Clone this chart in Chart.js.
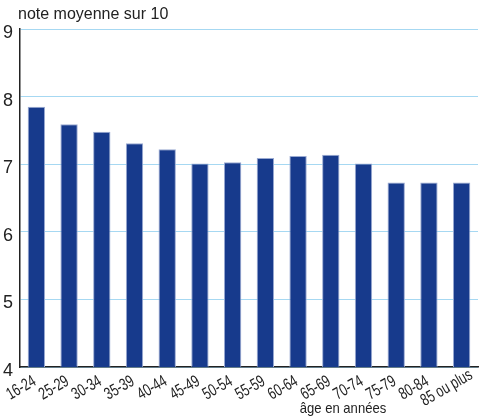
<!DOCTYPE html>
<html>
<head>
<meta charset="utf-8">
<script src="https://cdn.jsdelivr.net/npm/chart.js@4/dist/chart.umd.min.js"></script>
<style>
  html, body { margin: 0; padding: 0; background: #fff; }
  #wrap { width: 479px; height: 418px; position: relative; }
</style>
</head>
<body>
<div id="wrap"><canvas id="c" width="479" height="418"></canvas></div>
<script>
// Mean satisfaction score (out of 10) by age group
const ageGroups = ['16-24', '25-29', '30-34', '35-39', '40-44', '45-49', '50-54',
                   '55-59', '60-64', '65-69', '70-74', '75-79', '80-84', '85 ou plus'];
const meanScores = [7.85, 7.59, 7.48, 7.31, 7.22, 7.01, 7.03,
                    7.09, 7.12, 7.14, 7.01, 6.73, 6.73, 6.73];
const yMin = 4;
const yMax = 9;

const FONT = "'Liberation Sans', Arial, sans-serif";
const TEXT = '#222';

// Condensed text helper: draws narrow glyphs by squeezing the x axis
function narrowText(ctx, text, x, y, angleDeg, squeeze) {
  ctx.save();
  ctx.translate(x, y);
  ctx.rotate(-angleDeg * Math.PI / 180);
  ctx.scale(squeeze, 1);
  ctx.fillText(text, 0, 0);
  ctx.restore();
}

const captionsPlugin = {
  id: 'captions',
  afterDraw(chart) {
    const ctx = chart.ctx;
    const xScale = chart.scales.x;
    ctx.save();
    ctx.fillStyle = TEXT;

    // axis caption (unit)
    ctx.font = '16px ' + FONT;
    ctx.textAlign = 'left';
    ctx.textBaseline = 'alphabetic';
    ctx.fillText('note moyenne sur 10', 18, 19);

    // slanted category labels, centred below each bar
    ctx.font = '17px ' + FONT;
    ctx.textAlign = 'center';
    ctx.textBaseline = 'middle';
    chart.data.labels.forEach((lab, i) => {
      const px = xScale.getPixelForTick(i);
      narrowText(ctx, lab, px - 15, xScale.top + 21, 30, 0.72);
    });

    // x axis title
    ctx.font = '14.5px ' + FONT;
    ctx.textAlign = 'center';
    ctx.textBaseline = 'alphabetic';
    narrowText(ctx, 'âge en années', 343, 413, 0, 0.9);
    ctx.restore();
  }
};

new Chart(document.getElementById('c'), {
  type: 'bar',
  data: {
    labels: ageGroups,
    datasets: [{
      data: meanScores,
      backgroundColor: '#173a8c',
      borderColor: '#9aaad2',
      borderWidth: 1,
      borderSkipped: 'bottom',
      categoryPercentage: 1,
      barPercentage: 0.53
    }]
  },
  options: {
    responsive: false,
    animation: false,
    devicePixelRatio: 1,
    layout: { padding: { top: 29, right: 1, left: 0, bottom: 0 } },
    plugins: { legend: { display: false }, tooltip: { enabled: false }, title: { display: false } },
    scales: {
      x: {
        grid: { display: false, drawTicks: false },
        border: { display: true, color: '#222', width: 1.5 },
        ticks: { display: false, autoSkip: false },
        afterFit(scale) {
          scale.height = 51;
          scale.paddingLeft = 0;
          scale.paddingRight = 0;
        }
      },
      y: {
        min: yMin,
        max: yMax,
        grid: { color: '#a6d8f2', lineWidth: 1, drawTicks: false },
        border: { display: true, color: '#222', width: 1.5 },
        ticks: {
          stepSize: 1,
          color: TEXT,
          font: { family: FONT, size: 18 },
          padding: 7,
          labelOffset: 4
        },
        afterFit(scale) { scale.width = 20; }
      }
    }
  },
  plugins: [captionsPlugin]
});
</script>
</body>
</html>
